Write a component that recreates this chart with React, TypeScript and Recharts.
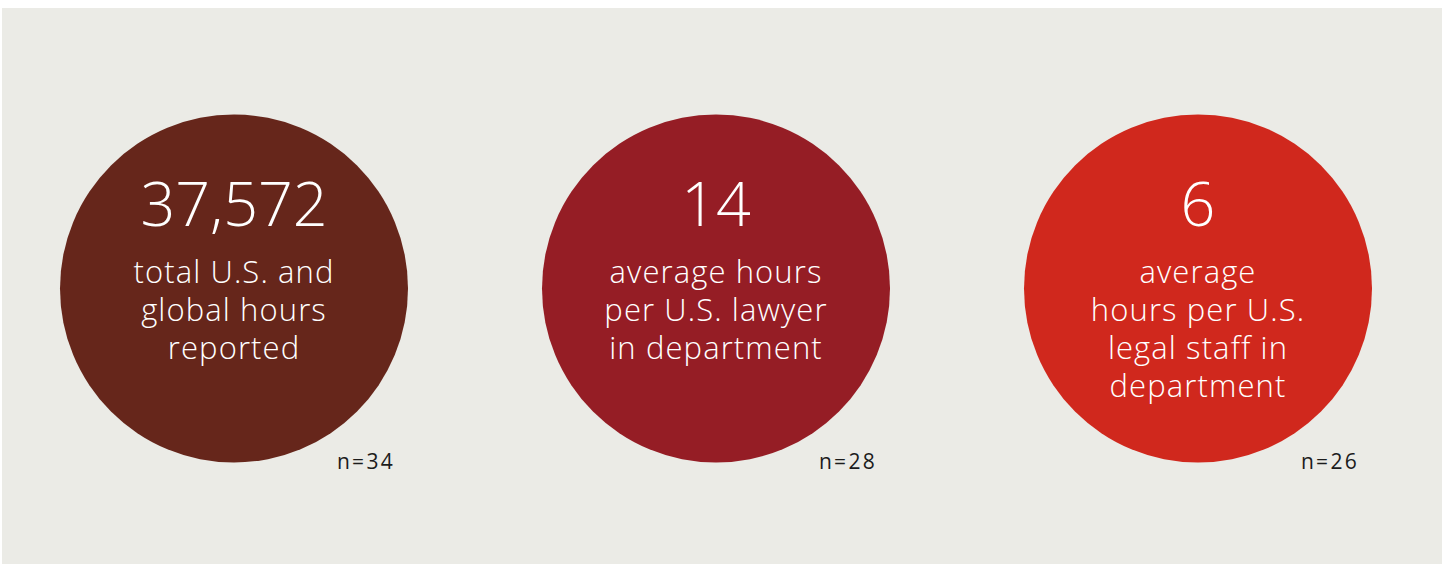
import React from 'react';
import { ScatterChart, Scatter, XAxis, YAxis } from 'recharts';

const CATEGORIES = ['total', 'perLawyer', 'perStaff'];
const VALUES = [37572, 14, 6];
const CAPTIONS = [
  ['total U.S. and', 'global hours', 'reported'],
  ['average hours', 'per U.S. lawyer', 'in department'],
  ['average', 'hours per U.S.', 'legal staff in', 'department'],
];
const SAMPLE_SIZES = [34, 28, 26];
const COLORS = ['#66261B', '#951D25', '#D0281D'];

const data = CATEGORIES.map((c, i) => ({
  category: c,
  value: VALUES[i],
  caption: CAPTIONS[i],
  n: SAMPLE_SIZES[i],
  color: COLORS[i],
}));

const FONT = '"Open Sans", "Noto Sans", sans-serif';
const fmt = new Intl.NumberFormat('en-US');

const StatBubble = (props: any) => {
  const { cx, cy, payload } = props;
  if (cx == null || cy == null) return null;
  return (
    <g>
      <circle cx={cx} cy={cy} r={174} fill={payload.color} />
      <text
        x={cx}
        y={cy - 62.5}
        textAnchor="middle"
        fill="#ffffff"
        fontSize={61}
        fontWeight={300}
        fontFamily={FONT}
      >
        {fmt.format(payload.value)}
      </text>
      {payload.caption.map((line: string, j: number) => (
        <text
          key={j}
          x={cx}
          y={cy - 5.5 + 38 * j}
          textAnchor="middle"
          fill="#ffffff"
          fontSize={31}
          fontWeight={300}
          letterSpacing={1.1}
          fontFamily={FONT}
        >
          {line}
        </text>
      ))}
      <text
        x={cx + 161}
        y={cy + 180.5}
        textAnchor="end"
        fill="#1c1c1c"
        fontSize={21}
        fontWeight={400}
        letterSpacing={2.3}
        fontFamily={FONT}
      >
        {`n=${payload.n}`}
      </text>
    </g>
  );
};

export default function App() {
  return (
    <div
      style={{
        position: 'absolute',
        left: 2,
        top: 8,
        width: 1440,
        height: 556,
        background: '#EBEBE6',
      }}
    >
      <ScatterChart
        width={1440}
        height={556}
        margin={{ top: 5, right: 3, bottom: 0, left: -9 }}
      >
        <XAxis
          type="number"
          dataKey={(d: any) => CATEGORIES.indexOf(d.category)}
          domain={[-0.5, CATEGORIES.length - 0.5]}
          hide
        />
        <YAxis type="number" dataKey={() => 0} domain={[-1, 1]} hide />
        <Scatter data={data} shape={StatBubble} isAnimationActive={false} />
      </ScatterChart>
    </div>
  );
}
